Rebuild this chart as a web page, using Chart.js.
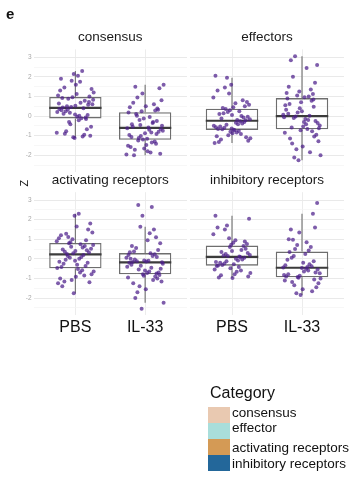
<!DOCTYPE html>
<html>
<head>
<meta charset="utf-8">
<script src="https://cdn.jsdelivr.net/npm/chart.js@4.4.1/dist/chart.umd.min.js"></script>
<style>
  html, body { margin: 0; padding: 0; background: #fff; }
  #wrap { position: relative; width: 353px; height: 480px; overflow: hidden;
          font-family: "Liberation Sans", Arial, sans-serif; color: #111; }
  #wrap canvas { position: absolute; left: 0; top: 0; }
  .tag { position: absolute; left: 6px; top: 6px; font-size: 15px; line-height: 15px; font-weight: bold; }
  .ytitle { position: absolute; left: 14px; top: 173px; width: 20px; height: 20px; line-height: 20px;
            text-align: center; font-size: 11px; transform: rotate(-90deg); }
  .legend-title { position: absolute; left: 210px; top: 384.5px; font-size: 16px; line-height: 16px; }
  .key { position: absolute; left: 208px; width: 22px; height: 16px; }
  .key-label { position: absolute; left: 232px; height: 16px; line-height: 16px; font-size: 13.5px; white-space: nowrap; }
</style>
</head>
<body>
<div id="wrap">
  <canvas id="c0" width="353" height="480"></canvas>
  <canvas id="c1" width="353" height="480"></canvas>
  <canvas id="c2" width="353" height="480"></canvas>
  <canvas id="c3" width="353" height="480"></canvas>
  <div class="tag">e</div>
  <div class="ytitle">Z</div>
  <div id="legend"></div>
</div>
<script>
// Groups on the x axis and facet titles
const categories = ['PBS', 'IL-33'];
const panelTitles = ['consensus', 'effectors', 'activating receptors', 'inhibitory receptors'];
const yTickValues = [-2, -1, 0, 1, 2, 3];

// Legend entries
const legendTitle = 'Category';
const legendLabels = ['consensus', 'effector', 'activating receptors', 'inhibitory receptors'];
const legendColors = ['#e9c9b1', '#a9dedb', '#d49a55', '#23679a'];

// Per-gene Z scores
const consensusPBS = [0.52, 1.9, -0.95, 0.17, 0.83, -0.22, 1.45, 0.05, -1.08, 0.64, 2.3, 0.33, -0.55, 1.12,
  0.92, -0.07, 0.46, -0.85, 1.75, 0.25, 0.72, -1.12, 1.3, 0.4, -0.3, 0.6, 2.05, 0.12, -0.68, 0.96, 1.05,
  -0.11, 0.5, -1.0, 1.6, 0.3, 0.78, -0.42, 1.2, 0.02, -0.9, 0.57, 2.15, 0.36, -1.04, 0.88, 1.38, -0.03,
  0.43, -0.15, 1.8, 0.2, 0.68, -0.78, 1.0, 0.08];
const consensusIL33 = [-0.25, 1.15, -1.52, -0.84, 0.02, -1.92, 0.5, -1.07, -1.3, -0.46, 1.6, -0.7, -1.72,
  0.32, -0.12, -0.97, -0.36, -1.25, 0.8, -1.16, -0.55, -1.42, 0.24, -0.62, -1.86, 0.1, 1.42, -0.88, -1.58,
  0.6, -0.2, -0.75, -0.58, -2.0, 0.38, -1.2, 0.18, -1.35, 0.95, -0.66, -1.48, -0.42, 0.28, -1.02, -1.96,
  -0.05, 1.5, -0.8, -1.65, 0.45, -0.3, -1.12, -0.5, -1.8, 0.68, -0.92];
const effectorsPBS = [0.05, 1.3, -0.92, -0.45, -0.16, 0.65, -1.2, -0.3, 0.3, 2.05, -0.76, -0.6, -0.04, 0.45,
  -1.32, -0.38, 0.2, 0.95, -0.84, -0.68, -0.22, 1.6, -1.03, -0.26, 0.36, 0.58, -0.73, -0.53, -0.08, 1.15,
  -1.38, -0.42, 0.14, 0.72, -0.88, -0.66, 0.0, 1.95, -1.13, -0.34, -0.12, 0.5, -0.8, -0.57, 0.25, 1.45,
  -1.26, -0.7, 0.1, 0.8, -0.98, -0.5, -0.2, 0.41, -1.08, -0.63];
const effectorsIL33 = [0.48, 1.25, -0.85, -0.2, -0.1, 2.6, -1.55, 0.12, 0.78, 1.05, -2.0, -0.42, -0.58, 1.7,
  -0.72, 0.32, 0.02, 3.05, -1.28, -0.3, 0.62, 1.12, -2.25, -0.06, -0.66, 2.0, -0.95, 0.25, 0.9, 1.35, -1.7,
  -0.48, -0.15, 2.85, -1.05, 0.4, 0.55, 1.0, -2.12, -0.36, -0.54, 1.5, -0.78, 0.18, 0.06, 2.45, -1.4, -0.25,
  0.7, 1.18, -1.85, -0.02, -0.62, 0.96, -1.15, 0.85];
const activatingPBS = [0.4, 1.2, -0.85, 0.05, 0.7, 2.3, -1.15, -0.2, 0.28, 1.05, -0.58, 0.15, 0.52, 1.65,
  -1.4, -0.36, 0.62, 0.9, -0.7, -0.05, 0.32, 2.2, -1.0, 0.2, 0.8, 1.35, -0.52, -0.25, 0.44, 1.0, -1.25, 0.1,
  0.25, 1.8, -0.92, -0.42, 0.66, 0.85, -0.64, 0.0, 0.36, 1.5, -1.76, -0.15, 0.58, 1.12, -0.78, -0.3, 0.48,
  0.95, -1.08, -0.47, 0.75, 1.28, -1.2, -0.1];
const activatingIL33 = [0.1, 2.2, -0.95, -0.45, -0.12, 0.8, -1.55, -0.3, 0.24, 1.64, -2.24, -0.65, -0.04,
  0.45, -0.86, -0.2, 0.15, 2.75, -1.15, -0.72, -0.16, 1.1, -2.55, -0.4, 0.28, 0.55, -0.82, -0.6, 0.0, 1.5,
  -1.4, -0.25, -0.1, 0.38, -1.0, -0.78, 0.2, 2.65, -1.7, -0.5, -0.14, 0.65, -0.9, -0.35, 0.05, 1.3, -2.0,
  -0.7, -0.08, 0.33, -1.08, -0.55, -0.17, 0.95, -1.25, -0.75];
const inhibitoryPBS = [0.4, 1.6, -0.6, -0.12, 0.2, 0.95, -0.84, 0.05, 0.6, 2.2, -0.42, -0.24, 0.3, 0.82,
  -0.95, -0.04, 0.14, 1.25, -0.66, -0.31, 0.52, 0.72, -0.37, 0.09, 0.25, 2.05, -0.78, -0.2, 0.66, 1.05,
  -0.55, -0.08, 0.17, 0.76, -0.98, -0.34, 0.45, 1.7, -0.72, 0.0, 0.35, 0.88, -0.48, -0.16, 0.12, 1.5, -0.9,
  -0.28];
const inhibitoryIL33 = [-0.12, 1.35, -1.1, -0.6, 0.15, 2.85, -1.55, -0.78, -0.38, 0.7, -1.0, -0.5, 0.05,
  1.6, -1.85, -0.9, -0.28, 0.5, -1.25, -0.65, 0.35, 2.3, -0.96, -0.82, -0.42, 0.98, -1.45, -0.47, -0.05, 0.6,
  -1.75, -0.74, 0.25, 1.5, -1.05, -0.86, -0.33, 0.43, -1.35, -0.55, -0.2, 1.0, -1.65, -0.93, -0.44, 0.85,
  -1.18, -0.7];

// ---- drawing ----
const FONT = '"Liberation Sans", Arial, sans-serif';
const Y_MIN = -2.85, Y_MAX = 3.4;
const BOX_HALF = 0.375;     // half box width, in category units
const SPREAD = 0.27;        // horizontal spread of the dots around each group
const POINT_COLOR = 'rgba(76, 30, 138, 0.72)';
const BOX_COLOR = '#6e6e6e';
const MEDIAN_COLOR = '#3c3c3c';

function quantile(sorted, p) {
  const h = (sorted.length - 1) * p;
  const lo = Math.floor(h), hi = Math.ceil(h);
  return sorted[lo] + (sorted[hi] - sorted[lo]) * (h - lo);
}
function boxStats(values) {
  const s = [...values].sort((a, b) => a - b);
  const q1 = quantile(s, 0.25), med = quantile(s, 0.5), q3 = quantile(s, 0.75);
  const iqr = q3 - q1;
  const lo = s.find(v => v >= q1 - 1.5 * iqr);
  const hi = [...s].reverse().find(v => v <= q3 + 1.5 * iqr);
  return { q1, med, q3, lo, hi };
}
// evenly scattered horizontal offsets for the dots
function spread(i, g) {
  const u = (0.5 + i * 0.6180339887 + g * 0.31) % 1;
  return (u - 0.5) * 2 * SPREAD;
}

const gridY = [];
yTickValues.forEach(v => { gridY.push(v - 0.5, v); });

const panels = [
  { id: 'c0', title: panelTitles[0], groups: [consensusPBS, consensusIL33],
    left: 33.5, right: 187, top: 49.4, bottom: 171.9, titleY: 37.5, showY: true, showX: false },
  { id: 'c1', title: panelTitles[1], groups: [effectorsPBS, effectorsIL33],
    left: 190, right: 344, top: 49.4, bottom: 171.9, titleY: 37.5, showY: false, showX: false },
  { id: 'c2', title: panelTitles[2], groups: [activatingPBS, activatingIL33],
    left: 33.5, right: 187, top: 192.2, bottom: 314.7, titleY: 180, showY: true, showX: true },
  { id: 'c3', title: panelTitles[3], groups: [inhibitoryPBS, inhibitoryIL33],
    left: 190, right: 344, top: 192.2, bottom: 314.7, titleY: 180, showY: false, showX: true }
];

const TITLE_SIZE = 13.5, TITLE_LH = 1.2;
const Y_AXIS_W = 12, X_AXIS_H = 22;

panels.forEach(p => {
  const stats = p.groups.map(boxStats);
  const dots = [];
  p.groups.forEach((vals, g) => vals.forEach((v, i) => dots.push({ x: g + 1 + spread(i, g), y: v })));
  const boxes = stats.map((s, g) => ({ x: g + 1, y: [s.q1, s.q3] }));
  const medians = [], whiskers = [];
  stats.forEach((s, g) => {
    const c = g + 1;
    medians.push({ x: c - BOX_HALF, y: s.med }, { x: c + BOX_HALF, y: s.med }, { x: c + 0.5, y: null });
    whiskers.push({ x: c, y: s.q3 }, { x: c, y: s.hi }, { x: c, y: null },
                  { x: c, y: s.q1 }, { x: c, y: s.lo }, { x: c + 0.5, y: null });
  });

  const yW = p.showY ? Y_AXIS_W : 0;
  const xH = p.showX ? X_AXIS_H : 0;
  const titleH = TITLE_SIZE * TITLE_LH;
  const titleTop = p.titleY - titleH / 2;

  new Chart(document.getElementById(p.id), {
    type: 'scatter',
    data: {
      datasets: [
        { type: 'scatter', data: dots, pointRadius: 2, pointBackgroundColor: POINT_COLOR,
          pointBorderWidth: 0, order: 0 },
        { type: 'line', data: medians, borderColor: MEDIAN_COLOR, borderWidth: 2.2, pointRadius: 0,
          fill: false, spanGaps: false, order: 1 },
        { type: 'bar', data: boxes, backgroundColor: 'rgba(0,0,0,0)', borderColor: BOX_COLOR,
          borderWidth: 1.3, borderSkipped: false, barPercentage: 2 * BOX_HALF, categoryPercentage: 1, order: 2 },
        { type: 'line', data: whiskers, borderColor: BOX_COLOR, borderWidth: 1.1, pointRadius: 0,
          fill: false, spanGaps: false, order: 3 }
      ]
    },
    options: {
      responsive: false,
      animation: false,
      events: [],
      layout: { padding: { left: p.left - yW, right: 353 - p.right, top: titleTop, bottom: 480 - p.bottom - xH } },
      plugins: {
        legend: { display: false },
        tooltip: { enabled: false },
        title: { display: true, text: p.title, fullSize: false, color: '#1a1a1a',
                 font: { family: FONT, size: TITLE_SIZE, weight: 'normal', lineHeight: TITLE_LH },
                 padding: { top: 0, bottom: p.top - titleTop - titleH } }
      },
      scales: {
        x: {
          type: 'linear', min: 0.4, max: 2.6, offset: false,
          afterBuildTicks: s => { s.ticks = categories.map((_, i) => ({ value: i + 1 })); },
          afterFit: s => { s.height = xH; },
          ticks: { display: p.showX, autoSkip: false, maxRotation: 0, padding: 3, color: '#111',
                   font: { family: FONT, size: 16 },
                   callback: v => categories[Math.round(v) - 1] },
          grid: { color: '#ececec', lineWidth: 1, drawTicks: false, offset: false },
          border: { display: false }
        },
        y: {
          type: 'linear', min: Y_MIN, max: Y_MAX, offset: false,
          afterBuildTicks: s => { s.ticks = gridY.map(v => ({ value: v })); },
          afterFit: s => { s.width = yW; },
          ticks: { display: p.showY, autoSkip: false, padding: 2, color: '#a8a8a8',
                   font: { family: FONT, size: 6.5 },
                   callback: v => (Number.isInteger(v) ? String(v) : '') },
          grid: { drawTicks: false,
                  color: ctx => (Number.isInteger(ctx.tick.value) ? '#e9e9e9' : '#f4f4f4'),
                  lineWidth: ctx => (Number.isInteger(ctx.tick.value) ? 1 : 0.7) },
          border: { display: false }
        }
      }
    }
  });
});

// Category legend: key blocks and the label rows beside them
const KEY_TOP = 407, KEY_H = 16;
const LABEL_ROWS = [404.5, 419.5, 439.5, 455.5];
const legend = document.getElementById('legend');
const lt = document.createElement('div');
lt.className = 'legend-title';
lt.textContent = legendTitle;
legend.appendChild(lt);
legendLabels.forEach((label, i) => {
  const key = document.createElement('div');
  key.className = 'key';
  key.style.top = (KEY_TOP + i * KEY_H) + 'px';
  key.style.background = legendColors[i];
  legend.appendChild(key);
  const txt = document.createElement('div');
  txt.className = 'key-label';
  txt.style.top = LABEL_ROWS[i] + 'px';
  txt.textContent = label;
  legend.appendChild(txt);
});
</script>
</body>
</html>
